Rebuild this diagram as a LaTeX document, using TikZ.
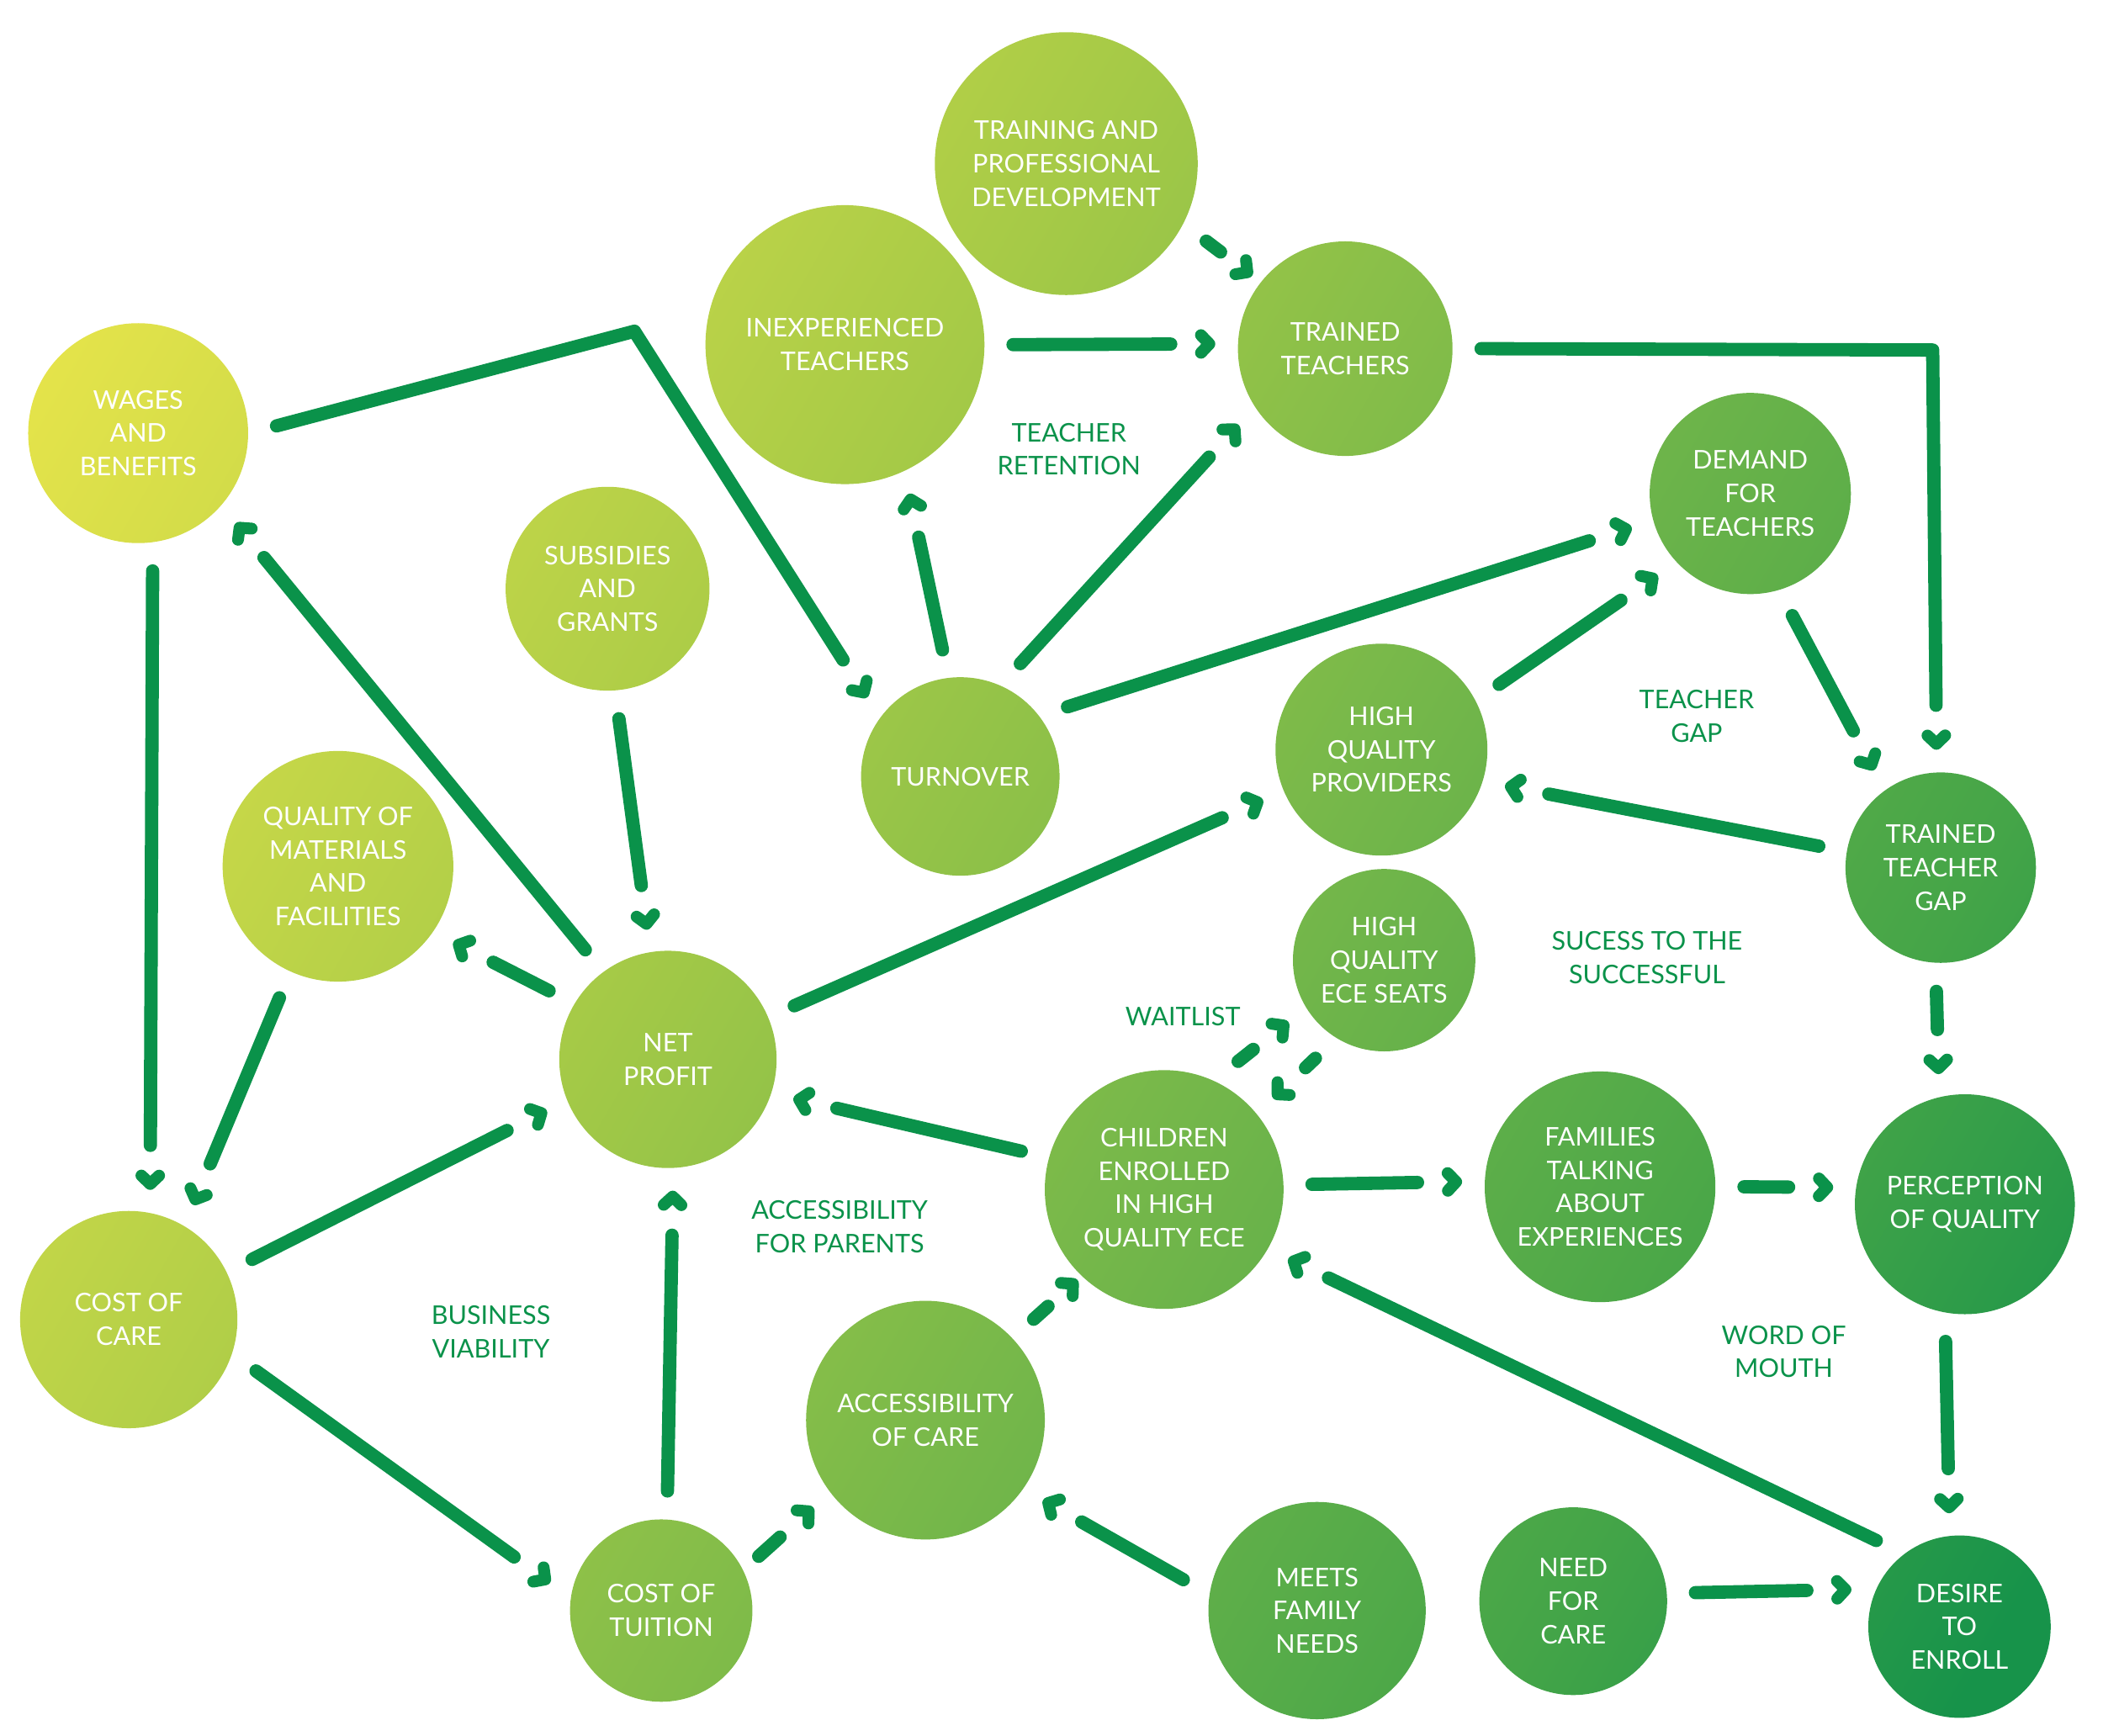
\documentclass[tikz,border=0pt]{standalone}
\usepackage{fontspec}
\setmainfont{Lato}
\usetikzlibrary{backgrounds,calc,decorations.markings}
\definecolor{lnk}{HTML}{0A924A}
\definecolor{gA}{HTML}{E6E44A}
\definecolor{gB}{HTML}{A6CA47}
\definecolor{gC}{HTML}{72B64A}
\definecolor{gD}{HTML}{45A548}
\definecolor{gE}{HTML}{17934A}
\pgfdeclarehorizontalshading{ecegrad}{100bp}{color(0bp)=(gA); color(28.75bp)=(gA); color(43.75bp)=(gB); color(55bp)=(gC); color(65bp)=(gD); color(72.5bp)=(gE); color(100bp)=(gE)}
\tikzset{
  bub/.style={circle, minimum size=#1*0.031888cm, inner sep=0pt, outer sep=0.34cm,
    text=white, align=center, font=\fontsize{8.7pt}{11.3pt}\selectfont},
  lab/.style={text=lnk, align=center, inner sep=0pt, font=\fontsize{8.7pt}{11.3pt}\selectfont},
  chev/.style={draw=lnk, line width=4pt, line cap=round, line join=round,
    shorten >=0pt, shorten <=0pt},
  conn/.style={draw=lnk, line width=4.5pt, line cap=round, line join=round,
    shorten >=0.46cm,
    postaction={decorate, decoration={markings,
      mark=at position -0.01pt with {\draw[chev] (-0.1cm,0.105cm) -- (0,0) -- (-0.1cm,-0.105cm);}}}}
}
\begin{document}
\begin{tikzpicture}[x=0.015944cm, y=-0.015944cm]
\useasboundingbox (0,0) rectangle (1568,1294);
% nodes
\node[bub=98]  (tpd)     at (795,122)  {TRAINING AND\\PROFESSIONAL\\DEVELOPMENT};
\node[bub=104] (inexp)   at (630,257)  {INEXPERIENCED\\TEACHERS};
\node[bub=80]  (tt)      at (1003,260) {TRAINED\\TEACHERS};
\node[bub=82]  (wages)   at (103,323)  {WAGES\\AND\\BENEFITS};
\node[bub=76]  (subs)    at (453,439)  {SUBSIDIES\\AND\\GRANTS};
\node[bub=74]  (turn)    at (716,579)  {TURNOVER};
\node[bub=75]  (demand)  at (1305,368) {DEMAND\\FOR\\TEACHERS};
\node[bub=79]  (hqp)     at (1030,559) {HIGH\\QUALITY\\PROVIDERS};
\node[bub=71]  (ttg)     at (1447,647) {TRAINED\\TEACHER\\GAP};
\node[bub=86]  (qual)    at (252,646)  {QUALITY OF\\MATERIALS\\AND\\FACILITIES};
\node[bub=81]  (net)     at (498,790)  {NET\\PROFIT};
\node[bub=68]  (seats)   at (1032,716) {HIGH\\QUALITY\\ECE SEATS};
\node[bub=89]  (child)   at (868,887)  {CHILDREN\\ENROLLED\\IN HIGH\\QUALITY ECE};
\node[bub=86]  (fam)     at (1193,885) {FAMILIES\\TALKING\\ABOUT\\EXPERIENCES};
\node[bub=82]  (perc)    at (1465,898) {PERCEPTION\\OF QUALITY};
\node[bub=81]  (cost)    at (96,984)   {COST OF\\CARE};
\node[bub=89]  (access)  at (690,1059) {ACCESSIBILITY\\OF CARE};
\node[bub=68]  (tuition) at (493,1201) {COST OF\\TUITION};
\node[bub=81]  (meets)   at (982,1201) {MEETS\\FAMILY\\NEEDS};
\node[bub=70]  (need)    at (1173,1194){NEED\\FOR\\CARE};
\node[bub=68]  (desire)  at (1461,1213){DESIRE\\TO\\ENROLL};
% gradient fill of the circles
\begin{scope}[on background layer]
  \clip (tpd.center) circle[radius=98] (inexp.center) circle[radius=104]
        (tt.center) circle[radius=80] (wages.center) circle[radius=82]
        (subs.center) circle[radius=76] (turn.center) circle[radius=74]
        (demand.center) circle[radius=75] (hqp.center) circle[radius=79]
        (ttg.center) circle[radius=71] (qual.center) circle[radius=86]
        (net.center) circle[radius=81] (seats.center) circle[radius=68]
        (child.center) circle[radius=89] (fam.center) circle[radius=86]
        (perc.center) circle[radius=82] (cost.center) circle[radius=81]
        (access.center) circle[radius=89] (tuition.center) circle[radius=68]
        (meets.center) circle[radius=81] (need.center) circle[radius=70]
        (desire.center) circle[radius=68];
  \begin{scope}[transform canvas={rotate=-30}]
    \shade[shading=ecegrad] (0,-800) rectangle (2000,1150);
  \end{scope}
\end{scope}
% labels
\node[lab] (l1) at (797,335)  {TEACHER\\RETENTION};
\node[lab] (l2) at (1265,534) {TEACHER\\GAP};
\node[lab] (l3) at (1228,714) {SUCESS TO THE\\SUCCESSFUL};
\node[lab] (l4) at (882,758)  {WAITLIST};
\node[lab] (l5) at (626,915)  {ACCESSIBILITY\\FOR PARENTS};
\node[lab] (l6) at (366,993)  {BUSINESS\\VIABILITY};
\node[lab] (l7) at (1330,1008){WORD OF\\MOUTH};
% corner points
\coordinate (k1) at (473,247);
\coordinate (k2) at (1441,261);
% connectors
\draw[conn] (inexp.0) -- (tt.178.5);
\draw[conn, shorten >=0.4cm] (tpd.-29.7) -- ($(tt.142.4)!0.14cm!(tt.center)$);
\draw[conn] (turn.62.1) -- (tt.216.4);
\draw[conn] (turn.98.5) -- (inexp.293);
\draw[conn] (wages.3) -- (k1) -- (turn.139.8);
\draw[conn] (tt.-0.6) -- (k2) -- (ttg.92.4);
\draw[conn] (turn.33) -- (demand.196.4);
\draw[conn] (hqp.29.4) -- (demand.221.8);
\draw[conn] (demand.289.6) -- (ttg.124.4);
\draw[conn] (ttg.170.4) -- (hqp.344.8);
\draw[conn] (ttg.268.1) -- (perc.101.5);
\draw[conn] (wages.276.5) -- (cost.81.4);
\draw[conn] (net.127.8) -- (wages.317.8);
\draw[conn] (subs.275) -- (net.99.4);
\draw[conn] (net.150.3) -- (qual.327.6);
\draw[conn] (qual.246.8) -- (cost.61.9);
\draw[conn] (cost.26.1) -- (net.203.3);
\draw[conn] (net.23) -- (hqp.203.4);
\draw[conn] (child.165) -- (net.343);
\draw[conn] (cost.338.7) -- (tuition.165.2);
\draw[conn] (tuition.87.5) -- (net.272.1);
\draw[conn, shorten <=-0.1cm] (tuition.30.8) -- (access.218.4);
\draw[conn, shorten >=0.4cm] (access.43) -- ($(child.226.6)!0.2cm!(child.center)$);
\draw[conn] (meets.167.4) -- (access.326.6);
\draw[conn] (child.60.4) -- (seats.213.4);
\draw[conn] (seats.235.9) -- (child.40.6);
\draw[conn] (child.2.6) -- (fam.178.4);
\draw[conn] (fam.-0.5) -- (perc.173.8);
\draw[conn] (perc.262) -- (desire.95.7);
\draw[conn] (desire.134) -- (child.331.4);
\draw[conn] (need.4.2) -- (desire.162.8);
\end{tikzpicture}
\end{document}
